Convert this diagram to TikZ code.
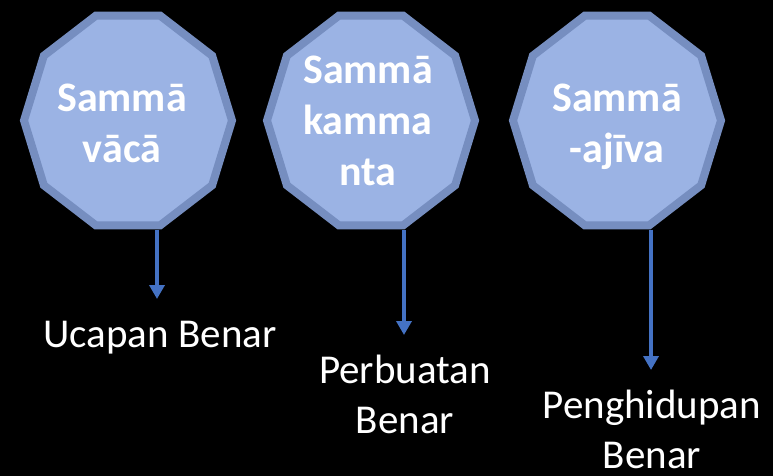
\documentclass[tikz,border=0pt]{standalone}
\usepackage{fontspec}
\setmainfont{Carlito}
\usetikzlibrary{shapes.geometric, arrows.meta, positioning}

\definecolor{face}{RGB}{155,179,228}
\definecolor{rim}{RGB}{118,142,192}
\definecolor{arrowblue}{RGB}{68,114,196}

\begin{document}
\begin{tikzpicture}[
    x=1pt, y=-1pt,
    deca/.style={
        draw=rim, fill=face, line width=8pt, regular polygon, regular polygon sides=10,
        inner sep=0pt, minimum size=208pt, yscale=1.06, transform shape
    },
    sam/.style={
        text=white, align=center, inner sep=0pt, anchor=base,
        font=\fontsize{42}{51}\selectfont\bfseries
    },
    lbl/.style={
        text=white, align=center, inner sep=0pt, anchor=base,
        font=\fontsize{41}{50}\selectfont
    },
    arr/.style={
        draw=arrowblue, line width=4.5pt, -{Triangle[width=15pt,length=14pt]}
    }
]

    \useasboundingbox[fill=black] (0,0) rectangle (773,476);

    \node[deca](vaca) at (128,120.5){};
    \node[deca](kammanta) at (371,120.5){};
    \node[deca](ajiva) at (617,120.5){};

    % base = last line
    \node[sam](vacatxt) at (122,162){Sammā\\vācā};
    \node[sam](kammantatxt) at (368,185){Sammā\\kamma\\nta};
    \node[sam](ajivatxt) at (617,162){Sammā\\-ajīva};

    \node[lbl](ucapan) at (160,347){Ucapan Benar};
    \node[lbl](perbuatan) at (405,433){Perbuatan\\Benar};
    \node[lbl](penghidupan) at (652,468){Penghidupan\\Benar};

    \coordinate (tip1) at (157,299);
    \coordinate (tip2) at (404,335);
    \coordinate (tip3) at (651,370);

    \draw[arr] (vaca.south -| tip1) to (tip1);
    \draw[arr] (kammanta.south -| tip2) to (tip2);
    \draw[arr] (ajiva.south -| tip3) to (tip3);

\end{tikzpicture}
\end{document}
